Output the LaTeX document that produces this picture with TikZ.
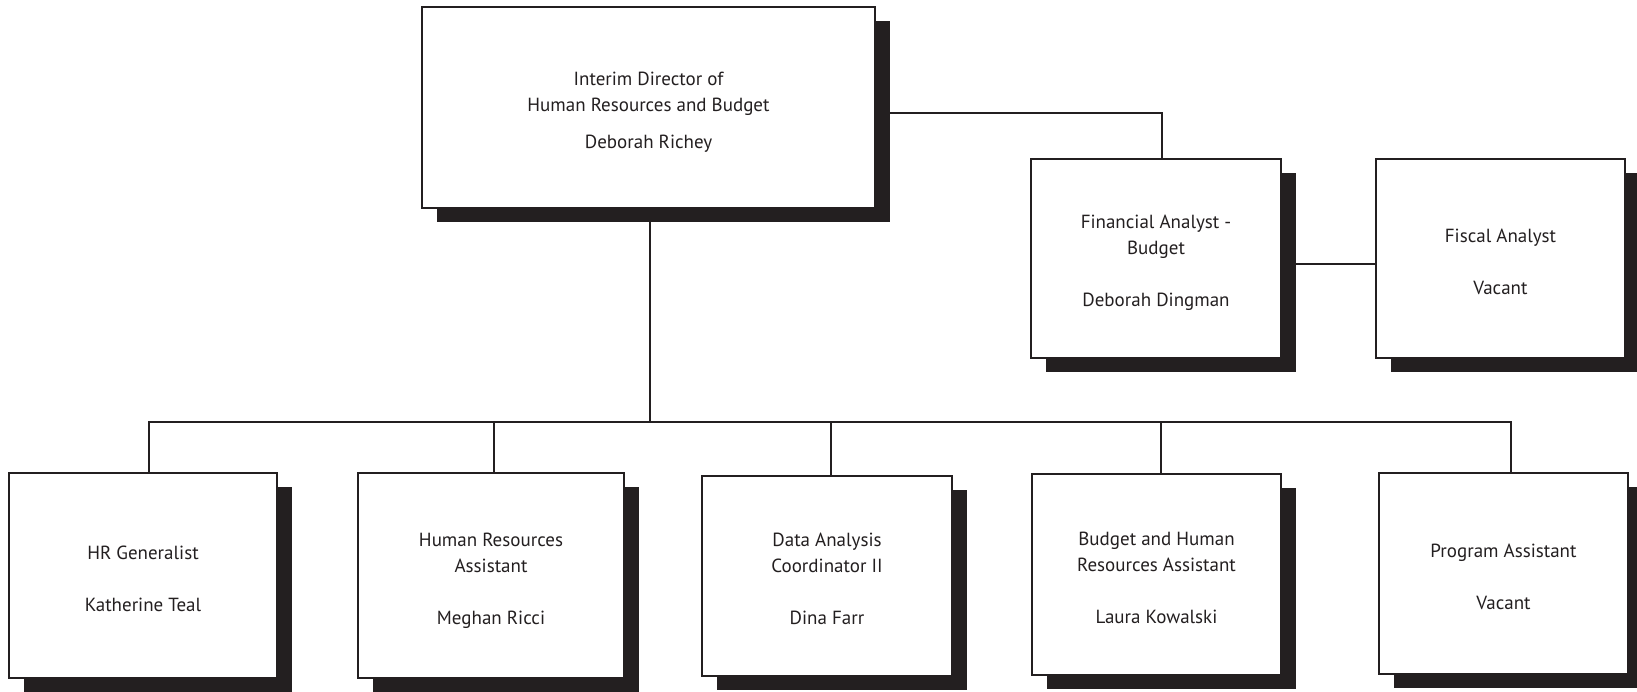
\documentclass[tikz,border=0pt]{standalone}
\usepackage{fontspec}
\setmainfont{PT Sans}
\usetikzlibrary{shadows}
\definecolor{ink}{HTML}{231F20}
\tikzset{
  orgbox/.style={draw=ink, line width=2pt, fill=white, inner sep=0pt,
    drop shadow={shadow xshift=15pt, shadow yshift=-14pt, opacity=1, fill=ink}},
  orgtext/.style={align=center, text=ink, inner sep=0pt,
    font=\fontsize{19}{26}\selectfont},
  link/.style={draw=ink, line width=2pt}
}
\begin{document}
\begin{tikzpicture}[x=1pt,y=-1pt]
\useasboundingbox (0,0) rectangle (1637,691);
\node[orgbox, minimum width=453pt, minimum height=201pt] (dir) at (648.5,107.5) {};
\node[orgbox, minimum width=250pt, minimum height=199pt] (fa) at (1156,258.5) {};
\node[orgbox, minimum width=249pt, minimum height=199pt] (fis) at (1500.5,258.5) {};
\node[orgbox, minimum width=268pt, minimum height=205pt] (hrg) at (143,575.5) {};
\node[orgbox, minimum width=266pt, minimum height=205pt] (hra) at (491,575.5) {};
\node[orgbox, minimum width=250pt, minimum height=200pt] (dat) at (827,576) {};
\node[orgbox, minimum width=249pt, minimum height=201pt] (bud) at (1156.5,574.5) {};
\node[orgbox, minimum width=249pt, minimum height=201pt] (prog) at (1503.5,573.5) {};

\node[orgtext, yshift=-4.5pt] (dirt) at (dir.center)
  {Interim Director of\\Human Resources and Budget\\[11pt]Deborah Richey};
\node[orgtext, yshift=-4.5pt] (fat) at (fa.center)
  {Financial Analyst -\\Budget\\[26pt]Deborah Dingman};
\node[orgtext, yshift=-3.5pt] (fist) at (fis.center)
  {Fiscal Analyst\\[26pt]Vacant};
\node[orgtext, yshift=-3pt] (hrgt) at (hrg.center)
  {HR Generalist\\[26pt]Katherine Teal};
\node[orgtext, yshift=-5pt] (hrat) at (hra.center)
  {Human Resources\\Assistant\\[26pt]Meghan Ricci};
\node[orgtext, yshift=-3pt] (datt) at (dat.center)
  {Data Analysis\\Coordinator II\\[26pt]Dina Farr};
\node[orgtext, yshift=-3pt] (budt) at (bud.center)
  {Budget and Human\\Resources Assistant\\[26pt]Laura Kowalski};
\node[orgtext, yshift=-3pt] (progt) at (prog.center)
  {Program Assistant\\[26pt]Vacant};

\coordinate (bus) at (650,422);
\draw[link] ([yshift=-5.5pt]dir.east) -| ([xshift=6pt]fa.north);
\draw[link] ([yshift=-5.5pt]fa.east) -- ([yshift=-5.5pt]fis.west);
\draw[link] ([xshift=1.5pt]dir.south) -- (bus);
\draw[link] ([xshift=6pt]hrg.north) |- (bus) -| ([xshift=7.5pt]prog.north);
\draw[link] ([xshift=3pt]hra.north) |- (bus);
\draw[link] ([xshift=4pt]dat.north) |- (bus);
\draw[link] ([xshift=4.5pt]bud.north) |- (bus);
\end{tikzpicture}
\end{document}
